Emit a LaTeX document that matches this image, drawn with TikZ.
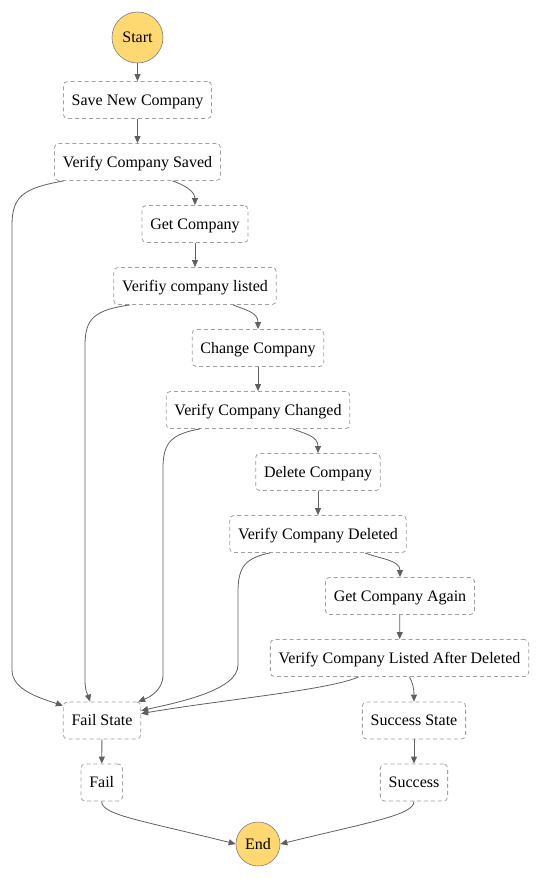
\documentclass[tikz,border=0pt]{standalone}
\usepackage{fontspec}
\setmainfont{Liberation Serif}
\usetikzlibrary{arrows.meta}
\definecolor{termfill}{RGB}{255,216,114}
\definecolor{boxline}{RGB}{160,160,160}
\definecolor{edgeline}{RGB}{95,95,95}
\tikzset{
  stepbox/.style={draw=boxline, dash pattern=on 4pt off 3pt, line width=0.8pt, rounded corners=4pt,
    minimum height=37pt, inner xsep=8.3pt, inner ysep=0pt, text height=13pt, text depth=3pt,
    font=\fontsize{16}{19}\selectfont, fill=white},
  term/.style={circle, draw=gray, fill=termfill, line width=0.6pt, inner sep=0pt, font=\fontsize{16}{19}\selectfont},
  edge/.style={draw=edgeline, line width=0.8pt, -{Triangle[length=7pt,width=6pt]}}
}
\begin{document}
\begin{tikzpicture}[x=1pt,y=-1pt]
\useasboundingbox (0,0) rectangle (538,879);
\node[term, minimum size=51pt] (start) at (137.5,37.5) {Start};
\node[stepbox] (snc) at (137.5,100) {Save New Company};
\node[stepbox] (vcs) at (137.5,162) {Verify Company Saved};
\node[stepbox] (gc) at (195,224) {Get Company};
\node[stepbox] (vcl) at (195,286) {Verifiy company listed};
\node[stepbox] (cc) at (258,348) {Change Company};
\node[stepbox] (vcc) at (258,410) {Verify Company Changed};
\node[stepbox] (dc) at (318,472) {Delete Company};
\node[stepbox] (vcd) at (318,534) {Verify Company Deleted};
\node[stepbox] (gca) at (400,596) {Get Company Again};
\node[stepbox] (vlad) at (399.5,658) {Verify Company Listed After Deleted};
\node[stepbox] (fs) at (102,720.5) {Fail State};
\node[stepbox] (ss) at (414,720.5) {Success State};
\node[stepbox] (fail) at (101.7,782.5) {Fail};
\node[stepbox] (succ) at (414,782.5) {Success};
\node[term, minimum size=44pt] (end) at (258,844) {End};

% main chain
\draw[edge] (start) -- (snc);
\draw[edge] (snc) -- (vcs);
\draw[edge] (gc) -- (vcl);
\draw[edge] (cc) -- (vcc);
\draw[edge] (dc) -- (vcd);
\draw[edge] (gca) -- (vlad);
\draw[edge] (fs) -- (fail);
\draw[edge] (ss) -- (succ);

% success branches
\draw[edge] ([xshift=35pt]vcs.south) .. controls +(0,0) and (195,188) .. (gc.north);
\draw[edge] ([xshift=38pt]vcl.south) .. controls +(12,5) and (258,312) .. (cc.north);
\draw[edge] ([xshift=35pt]vcc.south) .. controls +(12,5) and (318,436) .. (dc.north);
\draw[edge] ([xshift=47pt]vcd.south) .. controls +(15,6) and (400,560) .. (gca.north);
\draw[edge] ([xshift=10pt]vlad.south) .. controls +(3,6) and (414,688) .. (ss.north);

% fail branches
\draw[edge] ([xshift=-74pt]vcs.south) .. controls (25,188) and (12,195) .. (12,225)
  -- (12,670) .. controls (12,690) and (40,698) .. ([yshift=-4pt]fs.north west);
\draw[edge] ([xshift=-65pt]vcl.south) .. controls (95,310) and (85,318) .. (85,345)
  -- (85,680) .. controls (85,692) and (88,695) .. ([xshift=-12pt]fs.north);
\draw[edge] ([xshift=-58pt]vcc.south) .. controls (172,434) and (163,442) .. (163,468)
  -- (163,675) .. controls (163,690) and (150,697) .. ([xshift=-3pt]fs.north east);
\draw[edge] ([xshift=-48pt]vcd.south) .. controls (246,558) and (238,566) .. (238,592)
  -- (238,665) .. controls (238,690) and (180,702) .. ([yshift=-9pt]fs.north east);
\draw[edge] ([xshift=-41pt]vlad.south) .. controls (330,690) and (220,700) .. ([yshift=-12pt]fs.north east);

% to end
\draw[edge] (fail.south) .. controls (101.7,815) and (140,820) .. (end.west);
\draw[edge] (succ.south) .. controls (414,815) and (370,822) .. (end.east);
\end{tikzpicture}
\end{document}
